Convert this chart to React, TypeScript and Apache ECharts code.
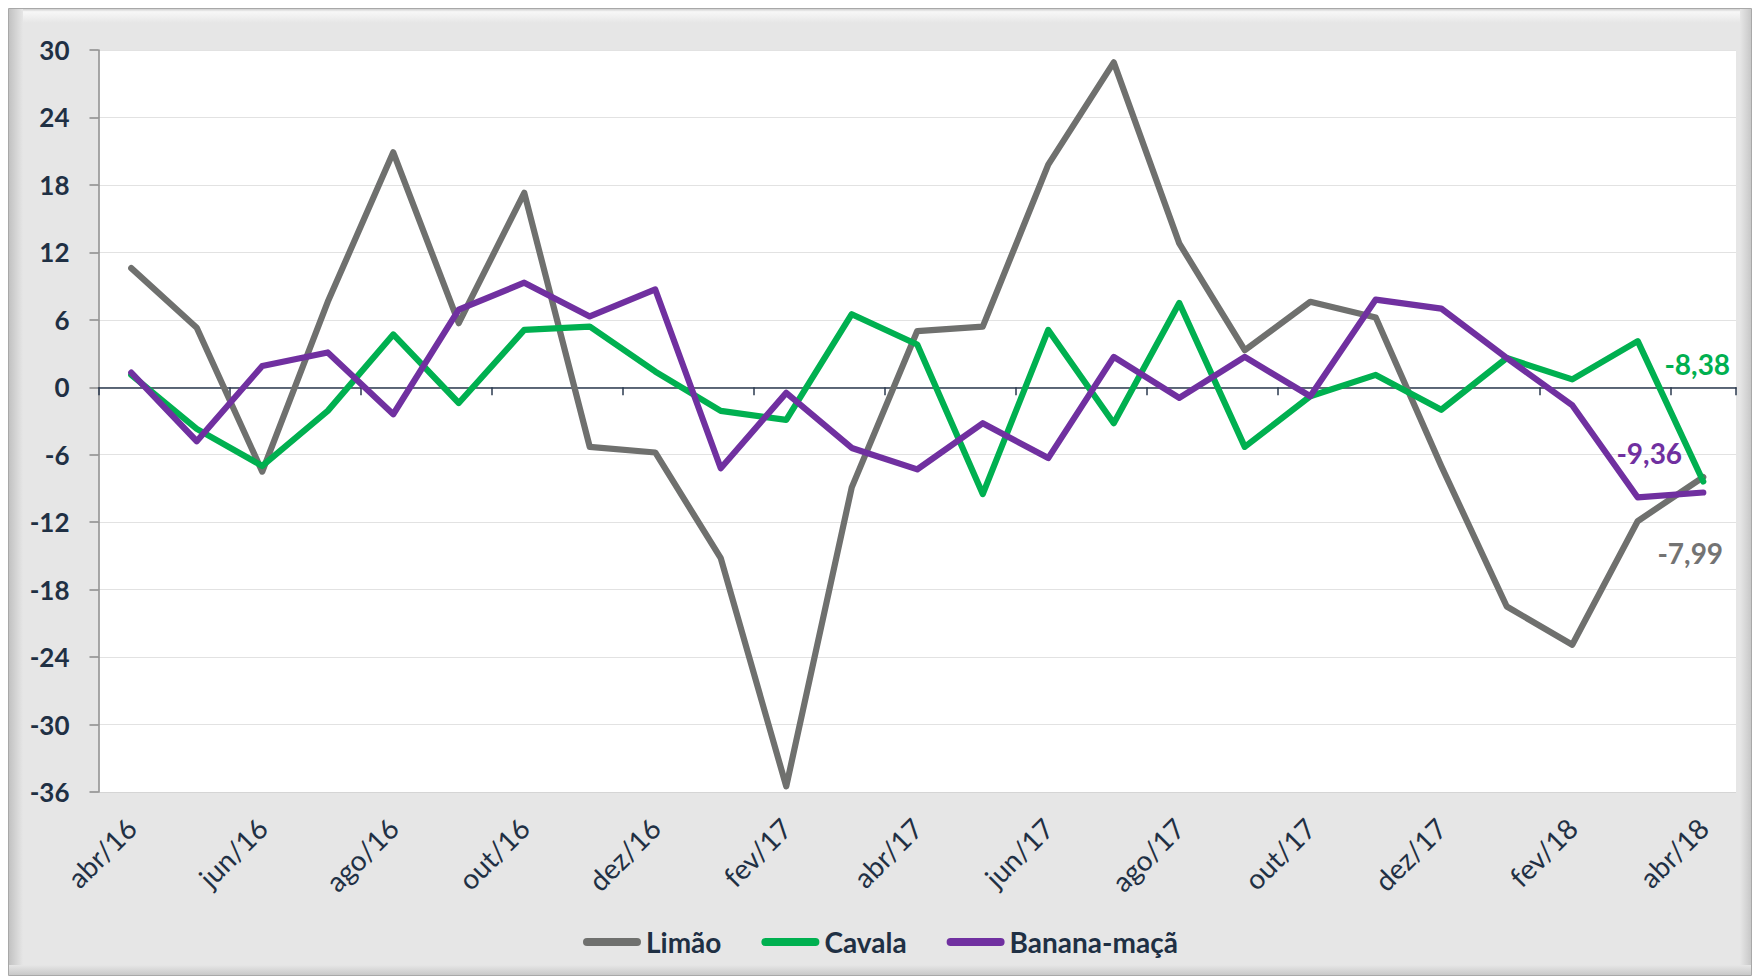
import React, { useEffect, useRef } from "react";
import * as echarts from "echarts";

const months = [
  "abr/16", "mai/16", "jun/16", "jul/16", "ago/16", "set/16", "out/16", "nov/16", "dez/16",
  "jan/17", "fev/17", "mar/17", "abr/17", "mai/17", "jun/17", "jul/17", "ago/17", "set/17",
  "out/17", "nov/17", "dez/17", "jan/18", "fev/18", "mar/18", "abr/18",
];

const limao = [10.6, 5.3, -7.5, 7.6, 20.9, 5.7, 17.3, -5.3, -5.8, -15.2, -35.5, -8.9, 5.0, 5.4, 19.8, 28.9, 12.8, 3.3, 7.6, 6.2, -7.0, -19.5, -22.9, -11.9, -7.99];
const cavala = [1.1, -3.7, -7.0, -2.1, 4.7, -1.4, 5.1, 5.4, 1.4, -2.1, -2.9, 6.5, 3.8, -9.5, 5.1, -3.2, 7.5, -5.3, -0.8, 1.1, -2.0, 2.6, 0.7, 4.1, -8.38];
const banana = [1.3, -4.8, 1.9, 3.1, -2.4, 6.9, 9.3, 6.3, 8.7, -7.2, -0.5, -5.4, -7.3, -3.2, -6.3, 2.7, -0.95, 2.7, -0.8, 7.8, 7.0, 2.6, -1.6, -9.8, -9.36];

const seriesNames = ["Limão", "Cavala", "Banana-maçã"];
const endLabels = ["-7,99", "-8,38", "-9,36"];

const NAVY = "#1F3044";
const FONT = "Lato, 'Open Sans', sans-serif";

function withEndLabel(arr: number[], text: string, color: string, offset: number[]) {
  return arr.map((v, i) =>
    i === arr.length - 1
      ? {
          value: v,
          symbol: "circle",
          symbolSize: 1,
          label: {
            show: true,
            position: "inside",
            offset,
            formatter: text,
            color,
            fontSize: 28,
            fontWeight: "bold",
            fontFamily: FONT,
          },
        }
      : v
  );
}

export default function App() {
  const ref = useRef<HTMLDivElement>(null);
  useEffect(() => {
    document.body.style.margin = "0";
    const chart = echarts.init(ref.current!, null, { renderer: "svg" });
    const lineCommon = {
      type: "line",
      symbol: "none",
      showSymbol: true,
      xAxisIndex: 0,
      yAxisIndex: 0,
      lineStyle: { width: 6.2, join: "round", cap: "round" },
      emphasis: { disabled: true },
    };
    const option: any = {
      animation: false,
      backgroundColor: "#ffffff",
      graphic: [
        {
          type: "rect",
          z: -10,
          shape: { x: 8.5, y: 8.5, width: 1743, height: 967 },
          style: { fill: "#E6E6E6", stroke: "#A8A8A8", lineWidth: 1 },
          silent: true,
        },
        {
          type: "rect",
          z: -9,
          shape: { x: 9, y: 9, width: 1742, height: 14 },
          style: {
            fill: new echarts.graphic.LinearGradient(0, 0, 0, 1, [
              { offset: 0, color: "#D0D0D0" },
              { offset: 0.2, color: "#F7F7F7" },
              { offset: 1, color: "#E6E6E6" },
            ]),
          },
          silent: true,
        },
        {
          type: "rect",
          z: -9,
          shape: { x: 9, y: 9, width: 14, height: 966 },
          style: {
            fill: new echarts.graphic.LinearGradient(0, 0, 1, 0, [
              { offset: 0, color: "#C2C2C2" },
              { offset: 1, color: "#E6E6E6" },
            ]),
          },
          silent: true,
        },
        {
          type: "rect",
          z: -9,
          shape: { x: 1740, y: 9, width: 11, height: 966 },
          style: {
            fill: new echarts.graphic.LinearGradient(0, 0, 1, 0, [
              { offset: 0, color: "#E6E6E6" },
              { offset: 1, color: "#C8C8C8" },
            ]),
          },
          silent: true,
        },
        {
          type: "rect",
          z: -9,
          shape: { x: 9, y: 965, width: 1742, height: 10 },
          style: {
            fill: new echarts.graphic.LinearGradient(0, 0, 0, 1, [
              { offset: 0, color: "#E6E6E6" },
              { offset: 1, color: "#C8C8C8" },
            ]),
          },
          silent: true,
        },
      ],
      grid: {
        left: 98.5,
        right: 18,
        top: 50,
        bottom: 187,
        show: true,
        backgroundColor: "#FFFFFF",
        borderWidth: 0,
        containLabel: false,
      },
      legend: {
        data: seriesNames,
        left: 578,
        top: 923,
        itemWidth: 58,
        itemHeight: 8,
        itemGap: 40,
        icon: "path://M4 0H54A4 4 0 0 1 54 8H4A4 4 0 0 1 4 0Z",
        textStyle: { fontSize: 28, fontWeight: "bold", color: NAVY, fontFamily: FONT },
      },
      xAxis: [
        {
          type: "category",
          data: months,
          boundaryGap: true,
          position: "bottom",
          axisLine: { show: false, onZero: false },
          axisTick: { show: false },
          splitLine: { show: false },
          axisLabel: {
            interval: 1,
            rotate: 45,
            margin: 31,
            fontSize: 28,
            color: NAVY,
            fontFamily: FONT,
          },
        },
        {
          type: "category",
          data: months,
          boundaryGap: true,
          position: "top",
          axisLine: { show: true, onZero: true, lineStyle: { color: "#2B3A4F", width: 1.5 } },
          axisTick: { show: true, inside: true, interval: 1, length: 8, lineStyle: { color: "#2B3A4F", width: 1.5 } },
          axisLabel: { show: false },
          splitLine: { show: false },
        },
      ],
      yAxis: {
        type: "value",
        min: -36,
        max: 30,
        interval: 6,
        axisLine: { show: true, lineStyle: { color: "#8A8A8A", width: 1.5 } },
        axisTick: { show: true, length: 9, lineStyle: { color: "#8A8A8A", width: 1.5 } },
        splitLine: { show: true, lineStyle: { color: "#C4C4C4", width: 1, type: "dotted" } },
        axisLabel: {
          margin: 29,
          fontSize: 26,
          fontWeight: "bold",
          color: NAVY,
          fontFamily: FONT,
        },
      },
      series: [
        {
          ...lineCommon,
          name: seriesNames[0],
          color: "#6F706E",
          data: withEndLabel(limao, endLabels[0], "#737373", [-13, 76]),
        },
        {
          ...lineCommon,
          name: seriesNames[1],
          color: "#00B050",
          data: withEndLabel(cavala, endLabels[1], "#00B050", [-6, -117]),
        },
        {
          ...lineCommon,
          name: seriesNames[2],
          color: "#7030A0",
          data: withEndLabel(banana, endLabels[2], "#7030A0", [-54, -40]),
        },
      ],
    };
    chart.setOption(option);
    return () => chart.dispose();
  }, []);
  return (
    <div
      ref={ref}
      style={{ position: "absolute", left: 0, top: 0, width: 1754, height: 979 }}
    />
  );
}
